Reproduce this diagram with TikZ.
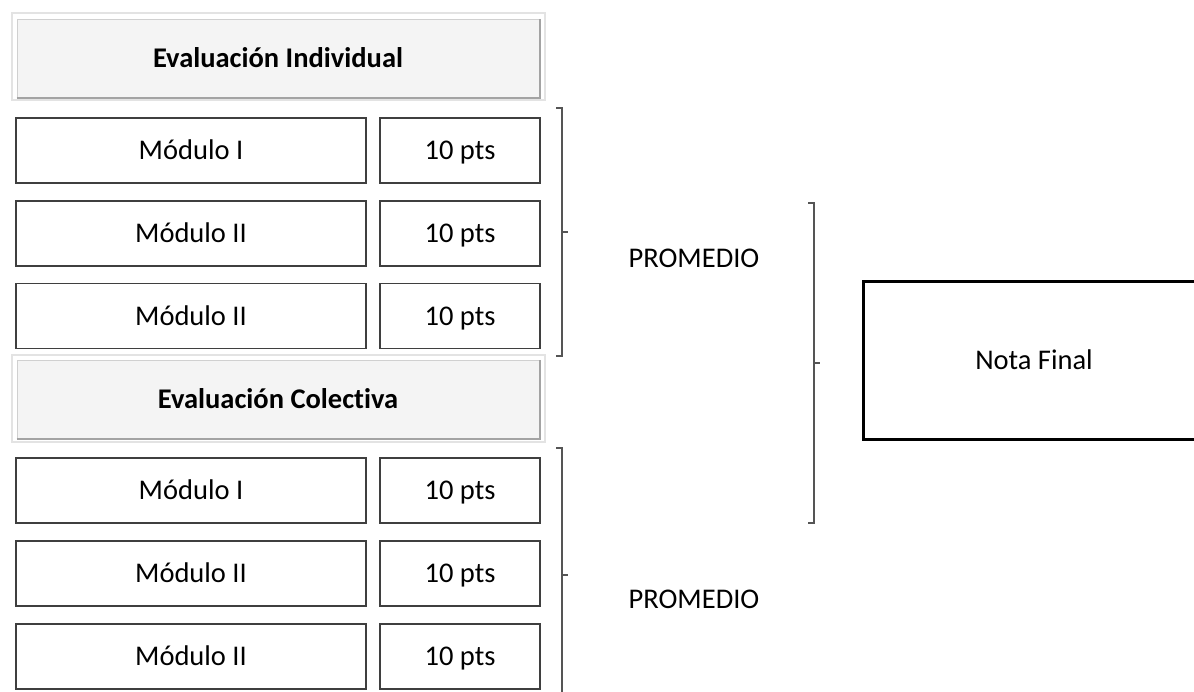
\documentclass[tikz,border=0pt]{standalone}
\usepackage{fontspec}
\setmainfont{Carlito}[Ligatures=NoCommon]
\usepackage{tikz}
\definecolor{boxline}{HTML}{3F3F3F}
\definecolor{brkline}{HTML}{555555}
\definecolor{hdrfill}{HTML}{F4F4F4}
\definecolor{hdredge}{HTML}{D0D0D0}
\definecolor{hdrshade}{HTML}{A3A3A3}
\definecolor{hdrglow}{HTML}{E3E3E3}
\tikzset{
  every picture/.style={font=\fontsize{28.5pt}{34pt}\selectfont, line join=miter},
  cell/.style={draw=boxline, line width=1.6pt, fill=white, inner sep=0pt, minimum height=65pt, text height=23pt, text depth=5pt},
  modbox/.style={cell, minimum width=350pt},
  ptsbox/.style={cell, minimum width=160pt},
  hdrframe/.style={draw=hdrglow, line width=2.5pt, fill=white},
  hdrbox/.style={draw=hdredge, line width=1pt, fill=hdrfill, inner sep=0pt, minimum width=522pt, minimum height=78pt, text height=23pt, text depth=5pt, font=\fontsize{28.5pt}{34pt}\selectfont\bfseries},
  hdrshade/.style={draw=hdrshade, line width=2pt},
  sumtext/.style={inner sep=0pt, text height=23pt, text depth=5pt},
  finalbox/.style={draw=black, line width=3pt, inner sep=0pt, minimum width=342pt, minimum height=158pt, text height=23pt, text depth=5pt},
  brk/.style={draw=brkline, line width=1.8pt},
}

\begin{document}
\begin{tikzpicture}[x=1pt,y=-1pt]
\useasboundingbox (0,0) rectangle (1194,691);
\draw[hdrframe] (12,13) rectangle (545,100);
\node[hdrbox] (hind) at (278,58) {Evaluación Individual};
\draw[hdrshade] (hind.south west) -- (hind.south east) -- (hind.north east);
\node[modbox] (mi1) at (191,150.5) {Módulo I};
\node[ptsbox] (pi1) at (460,150.5) {10 pts};
\node[modbox] (mi2) at (191,233.5) {Módulo II};
\node[ptsbox] (pi2) at (460,233.5) {10 pts};
\node[modbox] (mi3) at (191,316) {Módulo II};
\node[ptsbox] (pi3) at (460,316) {10 pts};
\draw[hdrframe] (12,355) rectangle (545,442);
\node[hdrbox] (hcol) at (278,399) {Evaluación Colectiva};
\draw[hdrshade] (hcol.south west) -- (hcol.south east) -- (hcol.north east);
\node[modbox] (mc1) at (191,490.5) {Módulo I};
\node[ptsbox] (pc1) at (460,490.5) {10 pts};
\node[modbox] (mc2) at (191,573.5) {Módulo II};
\node[ptsbox] (pc2) at (460,573.5) {10 pts};
\node[modbox] (mc3) at (191,656.5) {Módulo II};
\node[ptsbox] (pc3) at (460,656.5) {10 pts};
\coordinate (bind) at (562,232);
\draw[brk] (556,108) -- (562,108) -- (562,356) -- (556,356);
\draw[brk] (bind) -- ([xshift=6pt]bind);
\node[sumtext] (pind) at (694,258) {PROMEDIO};
\coordinate (bcol) at (562,575);
\draw[brk] (556,448) -- (562,448) -- (562,700);
\draw[brk] (bcol) -- ([xshift=6pt]bcol);
\node[sumtext] (pcol) at (694,599) {PROMEDIO};
\coordinate (bfin) at (814,363);
\draw[brk] (808,203) -- (814,203) -- (814,523) -- (808,523);
\draw[brk] (bfin) -- ([xshift=6pt]bfin);
\node[finalbox] (nota) at (1034,360.5) {Nota Final};
\end{tikzpicture}
\end{document}
